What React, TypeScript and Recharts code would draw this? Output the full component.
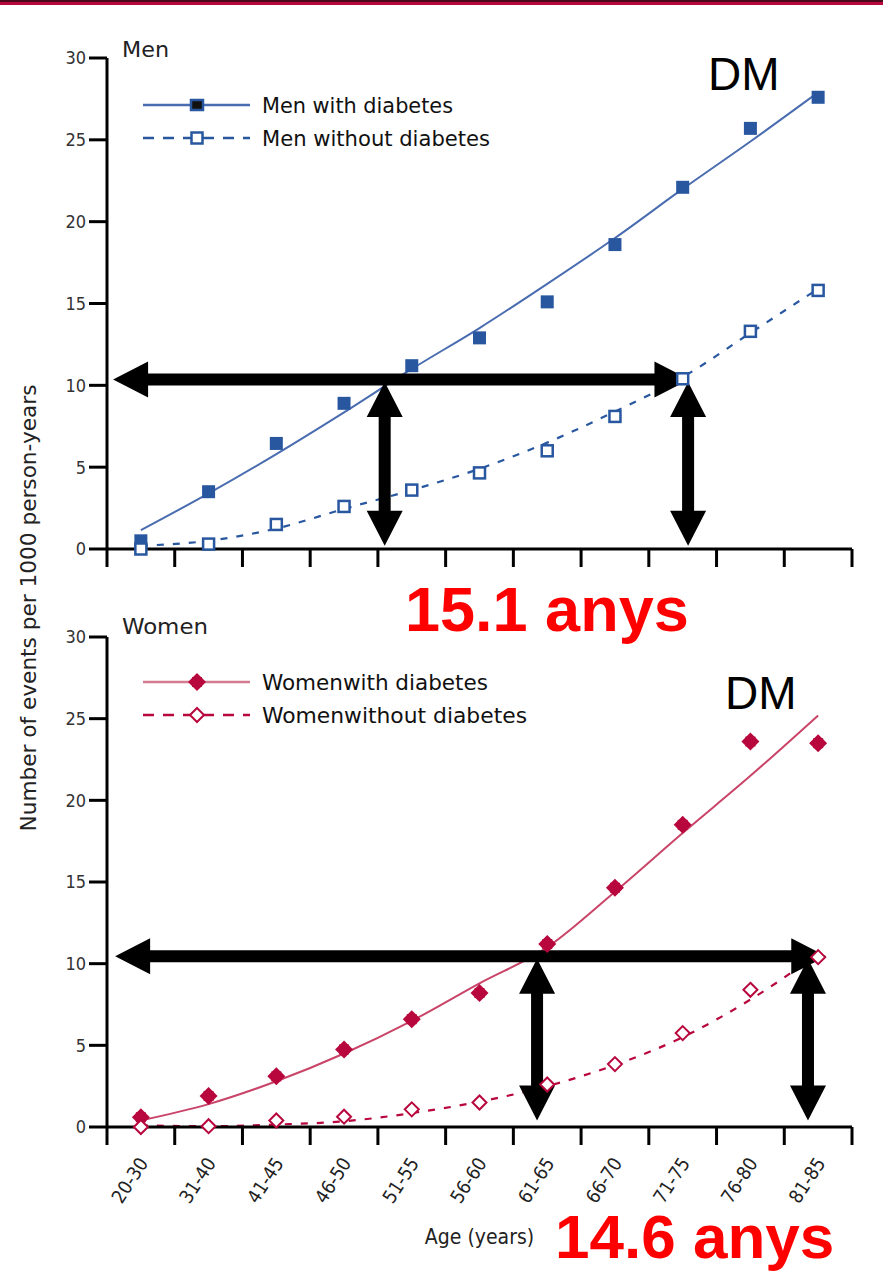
import React from 'react';
import { ComposedChart, Line, XAxis, YAxis, ReferenceLine, Label } from 'recharts';

// ---------- data ----------
const ageGroups = ['20-30', '31-40', '41-45', '46-50', '51-55', '56-60', '61-65', '66-70', '71-75', '76-80', '81-85'];
const menWithObs = [0.5, 3.5, 6.45, 8.9, 11.2, 12.9, 15.1, 18.6, 22.1, 25.7, 27.6];
const menWithFit = [1.15, 3.4, 5.8, 8.35, 11.0, 13.5, 16.2, 19.0, 22.0, 24.9, 27.9];
const menWithoutObs = [0, 0.3, 1.5, 2.6, 3.6, 4.65, 6.0, 8.1, 10.4, 13.3, 15.8];
const menWithoutFit = [0.2, 0.5, 1.25, 2.45, 3.6, 4.9, 6.5, 8.4, 10.5, 13.2, 15.9];
const womenWithObs = [0.6, 1.9, 3.1, 4.75, 6.6, 8.2, 11.2, 14.65, 18.5, 23.6, 23.5];
const womenWithFit = [0.4, 1.4, 2.8, 4.5, 6.5, 8.8, 11.0, 14.4, 18.0, 21.5, 25.2];
const womenWithoutObs = [0, 0.05, 0.4, 0.63, 1.08, 1.5, 2.6, 3.85, 5.75, 8.4, 10.4];
const womenWithoutFit = [0.1, 0.05, 0.15, 0.35, 0.85, 1.55, 2.5, 3.8, 5.5, 7.8, 10.6];
const yTicks = [0, 5, 10, 15, 20, 25, 30];

// annotation arrows (in data units: x = age-group index scale, y = events)
const menArrowX = [0.09, 8.6];
const menArrowLevel = 10.35;
const menDropX = [4.1, 8.58];
const menDropY = [10.2, 0.2];
const womenArrowX = [0.12, 10.62];
const womenArrowLevel = 10.45;
const womenDropX = [6.35, 10.35];
const womenDropY = [10.3, 0.4];

const menLabels = ['Men with diabetes', 'Men without diabetes'];
const menLabelWidths = [191, 228];
const womenLabels = ['Womenwith diabetes', 'Womenwithout diabetes'];
const womenLabelWidths = [226, 265];

// ---------- style ----------
const NARROW = "'DejaVu Sans Condensed', 'Liberation Sans Narrow', sans-serif";
const ARIAL = "'Liberation Sans', Arial, sans-serif";
const BLUE = '#2857a0';
const BLUE_LINE = '#4a6cb0';
const RED = '#b8073d';
const RED_LINE = '#c94468';
const RED_LEGEND_LINE = '#d47c8f';

const boundaryTicks = Array.from({ length: 12 }, (_, i) => i);
const centerTicks = ageGroups.map((_, i) => i + 0.5);
const allXTicks = [...boundaryTicks, ...centerTicks].sort((a, b) => a - b);

const buildData = (a: number[], b: number[], c: number[], d: number[]) =>
  ageGroups.map((g, i) => ({ x: i + 0.5, group: g, withObs: a[i], withFit: b[i], withoutObs: c[i], withoutFit: d[i] }));

const menData = buildData(menWithObs, menWithFit, menWithoutObs, menWithoutFit);
const womenData = buildData(womenWithObs, womenWithFit, womenWithoutObs, womenWithoutFit);

// ---------- markers ----------
const FilledSquare = ({ cx, cy, color }: any) => (
  <rect x={cx - 6.5} y={cy - 6.5} width={13} height={13} fill={color} />
);
const HollowSquare = ({ cx, cy, color }: any) => (
  <rect x={cx - 5.5} y={cy - 5.5} width={11} height={11} fill="#fff" stroke={color} strokeWidth={2.5} />
);
const FilledDiamond = ({ cx, cy, color }: any) => (
  <g>
    <polygon points={`${cx},${cy - 9} ${cx + 9},${cy} ${cx},${cy + 9} ${cx - 9},${cy}`} fill={color} />
    <rect x={cx - 5} y={cy - 5} width={10} height={10} fill={color} />
  </g>
);
const HollowDiamond = ({ cx, cy, color }: any) => (
  <polygon
    points={`${cx},${cy - 7} ${cx + 7},${cy} ${cx},${cy + 7} ${cx - 7},${cy}`}
    fill="#fff"
    stroke={color}
    strokeWidth={2}
  />
);

const ArrowShape = (p: any) => {
  const { x1, y1, x2, y2 } = p;
  const dx = x2 - x1;
  const dy = y2 - y1;
  const len = Math.hypot(dx, dy) || 1;
  const ux = dx / len;
  const uy = dy / len;
  const nx = -uy;
  const ny = ux;
  const hw = 6;
  const hl = 35;
  const hh = 18;
  const pt = (x: number, y: number) => `${x},${y}`;
  const a = [x1 + ux * hl, y1 + uy * hl];
  const b = [x2 - ux * hl, y2 - uy * hl];
  const pts = [
    pt(x1, y1),
    pt(a[0] + nx * hh, a[1] + ny * hh),
    pt(a[0] + nx * hw, a[1] + ny * hw),
    pt(b[0] + nx * hw, b[1] + ny * hw),
    pt(b[0] + nx * hh, b[1] + ny * hh),
    pt(x2, y2),
    pt(b[0] - nx * hh, b[1] - ny * hh),
    pt(b[0] - nx * hw, b[1] - ny * hw),
    pt(a[0] - nx * hw, a[1] - ny * hw),
    pt(a[0] - nx * hh, a[1] - ny * hh),
  ].join(' ');
  return <polygon points={pts} fill="#000" />;
};

const makeXTick = (showLabels: boolean) => (props: any) => {
  const { x, y, payload, index } = props;
  const v = payload.value;
  if (Number.isInteger(v)) {
    return <line key={`t${index}`} x1={x} x2={x} y1={y} y2={y + 18} stroke="#000" strokeWidth={3} />;
  }
  if (!showLabels) return <g key={`t${index}`} />;
  const label = ageGroups[Math.floor(v)];
  const lx = x + 8;
  const ly = y + 36;
  return (
    <text
      key={`t${index}`}
      x={lx}
      y={ly}
      transform={`rotate(-57, ${lx}, ${ly})`}
      textAnchor="end"
      fontFamily={NARROW}
      fontSize={19}
      fill="#222"
    >
      {label}
    </text>
  );
};

type PanelProps = {
  data: any[];
  height: number;
  margin: any;
  xAxisHeight: number;
  showLabels: boolean;
  withColor: string;
  withLine: string;
  withoutColor: string;
  WithMarker: any;
  WithoutMarker: any;
  arrowX: number[];
  arrowLevel: number;
  dropX: number[];
  dropY: number[];
};

const Panel = (p: PanelProps) => (
  <ComposedChart width={883} height={p.height} data={p.data} margin={p.margin}>
    <XAxis
      type="number"
      dataKey="x"
      domain={[0, 11]}
      ticks={allXTicks}
      interval={0}
      height={p.xAxisHeight}
      tickSize={0}
      tickMargin={0}
      tickLine={false}
      axisLine={{ stroke: '#000', strokeWidth: 3 }}
      tick={makeXTick(p.showLabels)}
    >
      {p.showLabels && (
        <Label value="Age (years)" position="insideBottom" offset={8} fontFamily={NARROW} fontSize={21} fill="#222" />
      )}
    </XAxis>
    <YAxis
      type="number"
      domain={[0, 30]}
      ticks={yTicks}
      interval={0}
      width={107}
      tickSize={18}
      tickMargin={3}
      axisLine={{ stroke: '#000', strokeWidth: 3 }}
      tickLine={{ stroke: '#000', strokeWidth: 3 }}
      tick={{ fontFamily: NARROW, fontSize: 18, fill: '#333' }}
    />
    <Line
      dataKey="withFit"
      type="monotone"
      stroke={p.withLine}
      strokeWidth={2}
      dot={false}
      activeDot={false}
      isAnimationActive={false}
    />
    <Line
      dataKey="withoutFit"
      type="monotone"
      stroke={p.withoutColor}
      strokeWidth={2.2}
      strokeDasharray="7 9"
      dot={false}
      activeDot={false}
      isAnimationActive={false}
    />
    <Line
      dataKey="withObs"
      stroke="transparent"
      strokeWidth={0}
      dot={(d: any) => <p.WithMarker key={`w${d.index}`} cx={d.cx} cy={d.cy} color={p.withColor} />}
      activeDot={false}
      isAnimationActive={false}
    />
    <Line
      dataKey="withoutObs"
      stroke="transparent"
      strokeWidth={0}
      dot={(d: any) => <p.WithoutMarker key={`o${d.index}`} cx={d.cx} cy={d.cy} color={p.withoutColor} />}
      activeDot={false}
      isAnimationActive={false}
    />
    <ReferenceLine
      segment={[
        { x: p.arrowX[0], y: p.arrowLevel },
        { x: p.arrowX[1], y: p.arrowLevel },
      ]}
      ifOverflow="visible"
      shape={ArrowShape}
    />
    {p.dropX.map((dx, i) => (
      <ReferenceLine
        key={`drop${i}`}
        segment={[
          { x: dx, y: p.dropY[0] },
          { x: dx, y: p.dropY[1] },
        ]}
        ifOverflow="visible"
        shape={ArrowShape}
      />
    ))}
  </ComposedChart>
);

const LegendBlock = ({ top, labels, widths, solidColor, dashColor, WithMarker, WithoutMarker, markerColor, dashMarkerColor }: any) => (
  <g>
    <line x1={143} x2={250} y1={top} y2={top} stroke={solidColor} strokeWidth={2.5} />
    <WithMarker cx={197} cy={top} color={markerColor} />
    <text x={262} y={top + 8} fontFamily={NARROW} fontSize={22} fill="#111" textLength={widths[0]} lengthAdjust="spacingAndGlyphs">
      {labels[0]}
    </text>
    <line x1={143} x2={250} y1={top + 33} y2={top + 33} stroke={dashColor} strokeWidth={2.5} strokeDasharray="11 9" />
    <WithoutMarker cx={197} cy={top + 33} color={dashMarkerColor} />
    <text x={262} y={top + 41} fontFamily={NARROW} fontSize={22} fill="#111" textLength={widths[1]} lengthAdjust="spacingAndGlyphs">
      {labels[1]}
    </text>
  </g>
);

const LegendSquare = ({ cx, cy, color }: any) => (
  <rect x={cx - 6} y={cy - 5} width={12} height={10} fill="#111" stroke={color} strokeWidth={2.5} />
);

export default function App() {
  return (
    <div
      style={{
        position: 'absolute',
        left: 0,
        top: 0,
        width: 883,
        height: 1272,
        background: '#fff',
        overflow: 'hidden',
      }}
    >
      <div style={{ position: 'absolute', left: 0, top: 0, width: 883, height: 2, background: '#4a0a1c' }} />
      <div style={{ position: 'absolute', left: 0, top: 2, width: 883, height: 3, background: '#b8073d' }} />

      <div style={{ position: 'absolute', left: 0, top: 0 }}>
        <Panel
          data={menData}
          height={600}
          margin={{ top: 58, right: 31, bottom: 31, left: 0 }}
          xAxisHeight={20}
          showLabels={false}
          withColor={BLUE}
          withLine={BLUE_LINE}
          withoutColor={BLUE}
          WithMarker={FilledSquare}
          WithoutMarker={HollowSquare}
          arrowX={menArrowX}
          arrowLevel={menArrowLevel}
          dropX={menDropX}
          dropY={menDropY}
        />
      </div>
      <div style={{ position: 'absolute', left: 0, top: 600 }}>
        <Panel
          data={womenData}
          height={672}
          margin={{ top: 37, right: 31, bottom: 20, left: 0 }}
          xAxisHeight={125}
          showLabels={true}
          withColor={RED}
          withLine={RED_LINE}
          withoutColor={RED}
          WithMarker={FilledDiamond}
          WithoutMarker={HollowDiamond}
          arrowX={womenArrowX}
          arrowLevel={womenArrowLevel}
          dropX={womenDropX}
          dropY={womenDropY}
        />
      </div>

      <svg
        width={883}
        height={1272}
        style={{ position: 'absolute', left: 0, top: 0, pointerEvents: 'none' }}
      >
        <text x={122} y={57} fontFamily={NARROW} fontSize={21} fill="#222" textLength={47} lengthAdjust="spacingAndGlyphs">
          Men
        </text>
        <text x={122} y={634} fontFamily={NARROW} fontSize={21} fill="#222" textLength={86} lengthAdjust="spacingAndGlyphs">
          Women
        </text>
        <LegendBlock
          top={105}
          labels={menLabels}
          widths={menLabelWidths}
          solidColor={BLUE_LINE}
          dashColor={BLUE}
          WithMarker={LegendSquare}
          WithoutMarker={HollowSquare}
          markerColor={BLUE}
          dashMarkerColor={BLUE}
        />
        <LegendBlock
          top={682}
          labels={womenLabels}
          widths={womenLabelWidths}
          solidColor={RED_LEGEND_LINE}
          dashColor={RED}
          WithMarker={FilledDiamond}
          WithoutMarker={HollowDiamond}
          markerColor={RED}
          dashMarkerColor={RED}
        />
        <text
          x={29}
          y={608}
          transform="rotate(-90, 29, 608)"
          textAnchor="middle"
          dominantBaseline="central"
          fontFamily={NARROW}
          fontSize={21}
          fill="#222"
          textLength={447}
          lengthAdjust="spacingAndGlyphs"
        >
          Number of events per 1000 person-years
        </text>
        <text x={708} y={90} fontFamily={ARIAL} fontSize={46} fill="#000">
          DM
        </text>
        <text x={725} y={709} fontFamily={ARIAL} fontSize={46} fill="#000">
          DM
        </text>
        <text x={405} y={631} fontFamily={ARIAL} fontWeight="bold" fontSize={63} fill="#ff0000">
          15.1 anys
        </text>
        <text x={555} y={1258} fontFamily={ARIAL} fontWeight="bold" fontSize={62} fill="#ff0000">
          14.6 anys
        </text>
      </svg>
    </div>
  );
}
